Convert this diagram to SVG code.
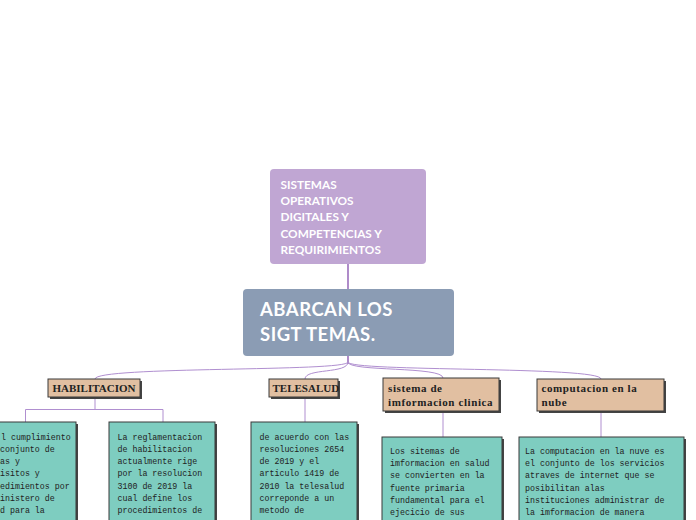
<svg xmlns="http://www.w3.org/2000/svg" width="696" height="520" viewBox="0 0 696 520">
<style>
.top{fill:#c0a6d3}
.main{fill:#8b9cb4}
.tt{font-family:Lato,"Open Sans",sans-serif;font-weight:700;fill:#fff}
.cat{fill:#e1bfa1;stroke:#3a3a3a;stroke-width:1}
.leaf{fill:#7ecdc0;stroke:#3a3a3a;stroke-width:1}
.sh{fill:#444}
.ct{font-family:"Liberation Serif","Times New Roman",serif;font-weight:700;font-size:11px;fill:#222}
.lc{letter-spacing:0.6px}
.lt{font-family:"Liberation Mono","DejaVu Sans Mono",monospace;font-size:8.3px;fill:#222}
.c{fill:none;stroke:#b08fd0;stroke-width:1}
.cd{fill:none;stroke:#7a3fa6;stroke-width:1.2}
</style>
<rect width="696" height="520" fill="#fff"/>
<g id="connectors">
<path class="cd" d="M348,264 V289"/>
<path class="cd" d="M348,356 V364"/>
<path class="c" d="M348,362 C348,372 95,366 95,379"/>
<path class="c" d="M348,362 C348,374 305,368 305,379"/>
<path class="c" d="M348,362 C348,372 443,366 443,378"/>
<path class="c" d="M348,362 C348,372 601,366 601,379"/>
<path class="c" d="M95,397 V409.5 M25.5,422 V409.5 H163 V422"/>
<path class="c" d="M305,397 V422"/>
<path class="c" d="M443,411 V437"/>
<path class="c" d="M601,411 V437"/>
</g>
<g id="n-top">
<rect class="top" x="270" y="169" width="156" height="95" rx="4"/>
<text class="tt" font-size="11.8" x="280.5"><tspan x="280.5" y="189">SISTEMAS</tspan><tspan x="280.5" y="205">OPERATIVOS</tspan><tspan x="280.5" y="221">DIGITALES Y</tspan><tspan x="280.5" y="238">COMPETENCIAS Y</tspan><tspan x="280.5" y="254">REQUIRIMIENTOS</tspan></text>
</g>
<g id="n-main">
<rect class="main" x="243" y="289" width="211" height="67" rx="4"/>
<text class="tt" font-size="18.5" letter-spacing="0.5" x="260"><tspan x="260" y="316">ABARCAN LOS</tspan><tspan x="260" y="341">SIGT TEMAS.</tspan></text>
</g>
<g id="n-habilitacion">
<rect class="sh" x="50" y="381" width="92" height="18"/>
<rect class="cat" x="48" y="379" width="92" height="18"/>
<text class="ct" x="52.5" y="392">HABILITACION</text>
</g>
<g id="n-telesalud">
<rect class="sh" x="271" y="381" width="69" height="18"/>
<rect class="cat" x="269" y="379" width="69" height="18"/>
<text class="ct" font-size="10.2" x="272.5" y="392">TELESALUD</text>
</g>
<g id="n-sistema">
<rect class="sh" x="385" y="380" width="116" height="33"/>
<rect class="cat" x="383" y="378" width="116" height="33"/>
<text class="ct lc"><tspan x="388" y="391.5">sistema de</tspan><tspan x="388" y="406">imformacion clinica</tspan></text>
</g>
<g id="n-computacion">
<rect class="sh" x="539" y="381" width="127" height="32"/>
<rect class="cat" x="537" y="379" width="127" height="32"/>
<text class="ct lc"><tspan x="541.5" y="392">computacion en la</tspan><tspan x="541.5" y="406">nube</tspan></text>
</g>
<g id="leaf-habilitacion-1">
<rect class="sh" x="-20" y="424" width="98" height="120"/>
<rect class="leaf" x="-22" y="422" width="98" height="120"/>
<text class="lt"><tspan x="1" y="439.5">l cumplimiento</tspan><tspan x="0" y="451.8">conjunto de</tspan><tspan x="0" y="464.1">as y</tspan><tspan x="0" y="476.4">isitos y</tspan><tspan x="0" y="488.7">edimientos por</tspan><tspan x="0" y="501">inistero de</tspan><tspan x="0" y="513.3">d para la</tspan></text>
</g>
<g id="leaf-habilitacion-2">
<rect class="sh" x="111" y="424" width="106" height="120"/>
<rect class="leaf" x="109" y="422" width="106" height="120"/>
<text class="lt"><tspan x="117.5" y="439.5">La reglamentacion</tspan><tspan x="117.5" y="451.8">de habilitacion</tspan><tspan x="117.5" y="464.1">actualmente rige</tspan><tspan x="117.5" y="476.4">por la resolucion</tspan><tspan x="117.5" y="488.7">3100 de 2019 la</tspan><tspan x="117.5" y="501">cual define los</tspan><tspan x="117.5" y="513.3">procedimientos de</tspan></text>
</g>
<g id="leaf-telesalud">
<rect class="sh" x="253" y="424" width="106" height="120"/>
<rect class="leaf" x="251" y="422" width="106" height="120"/>
<text class="lt"><tspan x="259.5" y="439.5">de acuerdo con las</tspan><tspan x="259.5" y="451.8">resoluciones 2654</tspan><tspan x="259.5" y="464.1">de 2019 y el</tspan><tspan x="259.5" y="476.4">articulo 1419 de</tspan><tspan x="259.5" y="488.7">2010 la telesalud</tspan><tspan x="259.5" y="501">correponde a un</tspan><tspan x="259.5" y="513.3">metodo de</tspan></text>
</g>
<g id="leaf-sistema">
<rect class="sh" x="384" y="439" width="120" height="100"/>
<rect class="leaf" x="382" y="437" width="120" height="100"/>
<text class="lt"><tspan x="390" y="454">Los sitemas de</tspan><tspan x="390" y="466.2">imformacion en salud</tspan><tspan x="390" y="478.4">se convierten en la</tspan><tspan x="390" y="490.6">fuente primaria</tspan><tspan x="390" y="502.8">fundamental para el</tspan><tspan x="390" y="515">ejecicio de sus</tspan></text>
</g>
<g id="leaf-computacion">
<rect class="sh" x="521" y="439" width="165" height="100"/>
<rect class="leaf" x="519" y="437" width="165" height="100"/>
<text class="lt"><tspan x="525" y="454">La computacion en la nuve es</tspan><tspan x="525" y="466.2">el conjunto de los servicios</tspan><tspan x="525" y="478.4">atraves de internet que se</tspan><tspan x="525" y="490.6">posibilitan alas</tspan><tspan x="525" y="502.8">instituciones administrar de</tspan><tspan x="525" y="515">la imformacion de manera</tspan></text>
</g>
</svg>
